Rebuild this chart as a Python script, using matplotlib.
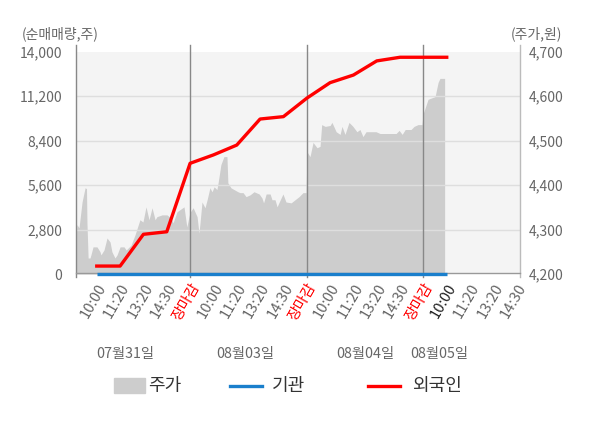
import matplotlib
matplotlib.use("Agg")
import matplotlib.pyplot as plt
from matplotlib.patches import Rectangle
from matplotlib.lines import Line2D

plt.rcParams['font.family'] = ['Noto Sans CJK KR', 'DejaVu Sans']

# ---------------- data ----------------
tick_labels = ["10:00", "11:20", "13:20", "14:30", "장마감",
               "10:00", "11:20", "13:20", "14:30", "장마감",
               "10:00", "11:20", "13:20", "14:30", "장마감",
               "10:00", "11:20", "13:20", "14:30"]
day_labels = ["07월31일", "08월03일", "08월04일", "08월05일"]

# price (주가, 원) sampled along the time axis (tick units)
price_x = [0.11, 0.15, 0.24, 0.37, 0.50, 0.56, 0.58, 0.63, 0.71, 0.75, 0.84, 1.01,
           1.14, 1.18, 1.31, 1.44, 1.57, 1.65, 1.78, 1.87, 2.00, 2.17, 2.26, 2.47,
           2.64, 2.85, 2.98, 3.11, 3.24, 3.37, 3.50, 3.58, 3.80, 4.01, 4.18, 4.27,
           4.44, 4.74, 4.86, 4.99,
           5.13, 5.30, 5.38, 5.43, 5.51, 5.64, 5.73, 5.85, 5.94, 6.03, 6.15, 6.20,
           6.32, 6.45, 6.58, 6.62, 6.75, 6.88, 7.05, 7.14, 7.27, 7.40, 7.57, 7.74,
           7.96, 8.08, 8.15, 8.26, 8.43, 8.51, 8.64, 8.73, 8.77, 8.98, 9.11, 9.33,
           9.50, 9.67, 9.84, 9.97,
           10.01, 10.14, 10.27, 10.44, 10.57, 10.64, 10.79, 11.00, 11.08, 11.26,
           11.43, 11.51, 11.64, 11.81, 11.98, 12.15, 12.28, 12.41, 12.54, 12.97,
           13.14, 13.83, 13.96, 14.09, 14.22, 14.47, 14.60, 14.77, 14.94,
           14.98, 15.20, 15.50, 15.63, 15.71, 15.91]
price_y = [4274, 4311, 4304, 4362, 4394, 4392, 4315, 4236, 4236, 4243, 4261, 4261,
           4250, 4243, 4254, 4281, 4272, 4250, 4236, 4243, 4261, 4261, 4254, 4265,
           4288, 4322, 4317, 4351, 4322, 4349, 4322, 4329, 4333, 4333, 4326, 4315,
           4340, 4351, 4306, 4338,
           4349, 4329, 4292, 4317, 4362, 4349, 4367, 4394, 4385, 4396, 4390, 4405,
           4446, 4464, 4464, 4405, 4394, 4390, 4385, 4383, 4383, 4374, 4378, 4385,
           4380, 4371, 4360, 4380, 4380, 4367, 4367, 4351, 4356, 4380, 4362, 4360,
           4367, 4374, 4383, 4383,
           4475, 4464, 4496, 4484, 4487, 4536, 4532, 4534, 4541, 4520,
           4514, 4532, 4514, 4541, 4532, 4520, 4525, 4509, 4520, 4520,
           4516, 4516, 4523, 4514, 4525, 4525, 4532, 4536, 4536,
           4559, 4593, 4599, 4631, 4640, 4640]

# cumulative net buying (순매매량, 주)
flow_x = [1, 2, 3, 4, 5, 6, 7, 8, 9, 10, 11, 12, 13, 14, 15, 16]
foreign = [500, 500, 2500, 2660, 6970, 7500, 8120, 9760, 9910, 11070,
           12050, 12530, 13420, 13650, 13650, 13650]
institution = [0, 0, 0, 0, 0, 0, 0, 0, 0, 0, 0, 0, 0, 0, 0, 0]

left_ticks = [0, 2800, 5600, 8400, 11200, 14000]
right_ticks = [4200, 4300, 4400, 4500, 4600, 4700]
day_bounds = [5, 10, 15]

# ---------------- style ----------------
GRAY_TXT = "#666666"
AREA = "#cdcdcd"
BG = "#f4f4f4"
RED = "#ff0000"
BLUE = "#1a7fcc"

fig = plt.figure(figsize=(6.0, 4.28), dpi=100)
axp = fig.add_axes([76/600, 1 - 274/428, 444/600, (274 - 51.7)/428])  # price (right)
ax = fig.add_axes(axp.get_position(), sharex=axp)
ax.set_zorder(axp.get_zorder() + 1)
ax.patch.set_visible(False)
axp.set_facecolor(BG)

# price area on right axis
axp.fill_between(price_x, 4200, price_y, color=AREA, linewidth=0, zorder=1)
axp.set_ylim(4200, 4700)
axp.set_xlim(0.11, 19.14)
axp.yaxis.tick_right()
axp.set_yticks(right_ticks)
axp.set_yticklabels([f"{v:,}" for v in right_ticks])
axp.tick_params(axis='y', length=0, pad=6, labelsize=10, colors=GRAY_TXT)
axp.tick_params(axis='x', length=0)
for s in axp.spines.values():
    s.set_visible(False)

# flows on left axis
ax.set_ylim(0, 14000)
ax.set_yticks(left_ticks)
ax.set_yticklabels([f"{v:,}" for v in left_ticks])
ax.tick_params(axis='y', length=0, pad=10, labelsize=10, colors=GRAY_TXT)
for s in ax.spines.values():
    s.set_visible(False)
for v in left_ticks[1:-1]:
    ax.axhline(v, color="#dedede", linewidth=1, zorder=1)

for d in day_bounds:
    ax.axvline(d, ymin=-0.015, ymax=1.03, color="#888888", linewidth=1,
               clip_on=False, zorder=2)
# side axis lines
for xa, col in [(0.0, "#888888"), (1.0, "#bbbbbb")]:
    ax.add_line(Line2D([xa, xa], [-0.015, 1.03], transform=ax.transAxes,
                       color=col, linewidth=1, clip_on=False))
ax.add_line(Line2D([0, 1], [0.004, 0.004], transform=ax.transAxes,
                   color="#999999", linewidth=1, clip_on=False, zorder=2))

ax.plot(flow_x, institution, color=BLUE, linewidth=2.4, clip_on=False, zorder=4,
        solid_capstyle='butt')
ax.plot(flow_x, foreign, color=RED, linewidth=2.4, zorder=5, solid_joinstyle='round')

# x ticks
ax.set_xticks(range(1, len(tick_labels) + 1))
ax.set_xticklabels(tick_labels, rotation=60, ha='right', va='top',
                   rotation_mode='anchor', fontsize=10.7)
ax.tick_params(axis='x', length=0, pad=5)
for i, lab in enumerate(ax.get_xticklabels()):
    if tick_labels[i] == "장마감":
        lab.set_color(RED)
    elif i == 15:
        lab.set_color("#222222")
    else:
        lab.set_color(GRAY_TXT)
plt.setp(axp.get_xticklabels(), visible=False)

# day labels
day_pos = [2.2, 7.35, 12.5, 15.7]
for xp, lab in zip(day_pos, day_labels):
    ax.text(xp, -0.36, lab, transform=ax.get_xaxis_transform(), ha='center',
            va='center', fontsize=10.3, color=GRAY_TXT, clip_on=False)

# axis titles
fig.text(22/600, 1 - 34/428, "(순매매량,주)", ha='left', va='center',
         fontsize=10, color=GRAY_TXT)
fig.text(562/600, 1 - 34/428, "(주가,원)", ha='right', va='center',
         fontsize=10, color=GRAY_TXT)

# legend (manual)
def fx(p):
    return p / 600
def fy(p):
    return 1 - p / 428

fig.add_artist(Rectangle((fx(114), fy(392.7)), fx(31), 15/428, color=AREA,
                         transform=fig.transFigure))
fig.add_artist(Line2D([fx(230), fx(262)], [fy(386), fy(386)], color=BLUE,
                      linewidth=2.4, transform=fig.transFigure))
fig.add_artist(Line2D([fx(368), fx(400)], [fy(386), fy(386)], color=RED,
                      linewidth=2.4, transform=fig.transFigure))
for xp, lab in [(148, "주가"), (271.7, "기관"), (411.7, "외국인")]:
    fig.text(fx(xp), fy(385.5), lab, ha='left', va='center', fontsize=13,
             color="#333333")

fig.savefig("out.png", dpi=100)
